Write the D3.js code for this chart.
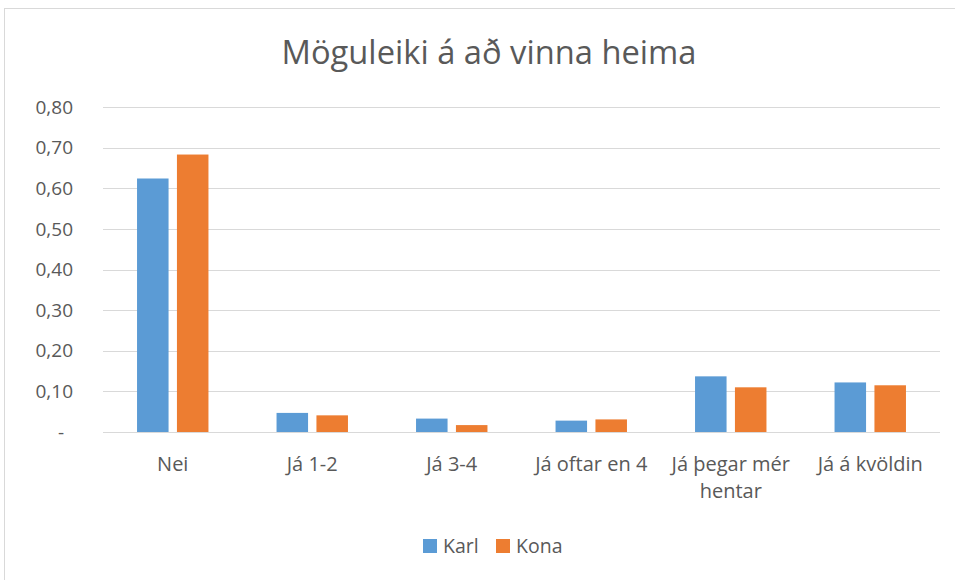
<!DOCTYPE html>
<html>
<head>
<meta charset="utf-8">
<script src="https://cdn.jsdelivr.net/npm/d3@7"></script>
<style>
  body { margin: 0; background: #fff; }
  svg text { font-family: "Open Sans", sans-serif; fill: #595959; }
</style>
</head>
<body>
<div id="chart"></div>
<script>
const categories = ["Nei", "Já 1-2", "Já 3-4", "Já oftar en 4", "Já þegar mér hentar", "Já á kvöldin"];
const seriesNames = ["Karl", "Kona"];
const karl = [0.624, 0.047, 0.033, 0.028, 0.137, 0.122];
const kona = [0.683, 0.041, 0.017, 0.031, 0.110, 0.115];
const yTicks = [0, 0.1, 0.2, 0.3, 0.4, 0.5, 0.6, 0.7, 0.8];
const colors = ["#5b9bd5", "#ed7d31"];

const W = 955, H = 580;
const margin = { top: 107, right: 15, bottom: 148, left: 103 };
const width = W - margin.left - margin.right;
const height = H - margin.top - margin.bottom;

const svg = d3.select("#chart").append("svg")
    .attr("width", W)
    .attr("height", H);

// chart frame
svg.append("rect")
    .attr("x", 4.5).attr("y", 8.5)
    .attr("width", W + 10).attr("height", H + 10)
    .attr("fill", "none")
    .attr("stroke", "#d9d9d9");

svg.append("text")
    .attr("x", 489)
    .attr("y", 64)
    .attr("text-anchor", "middle")
    .style("font-size", "32.7px")
    .text("Möguleiki á að vinna heima");

const g = svg.append("g")
    .attr("transform", `translate(${margin.left},${margin.top})`);

const y = d3.scaleLinear().domain([0, 0.8]).range([height, 0]);

const x0 = d3.scaleBand().domain(categories).range([0, width]);
const bw = x0.bandwidth();
const x1 = d3.scaleBand().domain(seriesNames)
    .range([bw * 0.244, bw * 0.756])
    .paddingInner(0.21);

// gridlines
g.append("g")
    .selectAll("line")
    .data(yTicks)
    .join("line")
    .attr("x1", 0).attr("x2", width)
    .attr("y1", d => Math.round(y(d)) + 0.5)
    .attr("y2", d => Math.round(y(d)) + 0.5)
    .attr("stroke", "#d9d9d9")
    .attr("stroke-width", 1);

// y labels
const fmt = d => d === 0 ? "-" : d3.format(".2f")(d).replace(".", ",");
g.append("g")
    .selectAll("text")
    .data(yTicks)
    .join("text")
    .attr("x", d => d === 0 ? -39 : -30)
    .attr("y", d => y(d))
    .attr("dy", "0.35em")
    .attr("text-anchor", "end")
    .style("font-size", "19px")
    .text(fmt);

const rows = categories.map((c, i) => ({ cat: c, vals: [karl[i], kona[i]] }));

const groups = g.selectAll(".cat")
    .data(rows)
    .join("g")
    .attr("class", "cat")
    .attr("transform", d => `translate(${x0(d.cat)},0)`);

groups.selectAll("rect")
    .data(d => d.vals.map((v, j) => ({ s: seriesNames[j], v, j })))
    .join("rect")
    .attr("x", d => x1(d.s))
    .attr("width", x1.bandwidth())
    .attr("y", d => y(d.v))
    .attr("height", d => y(0) - y(d.v))
    .attr("fill", d => colors[d.j]);

// category labels (wrap long ones)
const catLabels = g.append("g").selectAll("text")
    .data(categories)
    .join("text")
    .attr("x", d => x0(d) + bw / 2)
    .attr("y", height + 39)
    .attr("text-anchor", "middle")
    .style("font-size", "20px");

catLabels.each(function (d) {
    const t = d3.select(this);
    const lines = d === "Já þegar mér hentar" ? ["Já þegar mér", "hentar"] : [d];
    lines.forEach((ln, i) => {
        t.append("tspan")
            .attr("x", x0(d) + bw / 2)
            .attr("dy", i === 0 ? 0 : 26.5)
            .text(ln);
    });
});

// legend
const legend = svg.append("g").attr("transform", "translate(423,539)");
const legX = [0, 73];
seriesNames.forEach((s, i) => {
    legend.append("rect")
        .attr("x", legX[i]).attr("y", 0)
        .attr("width", 14).attr("height", 14)
        .attr("fill", colors[i]);
    legend.append("text")
        .attr("x", legX[i] + 20)
        .attr("y", 14)
        .style("font-size", "19.5px")
        .text(s);
});
</script>
</body>
</html>
